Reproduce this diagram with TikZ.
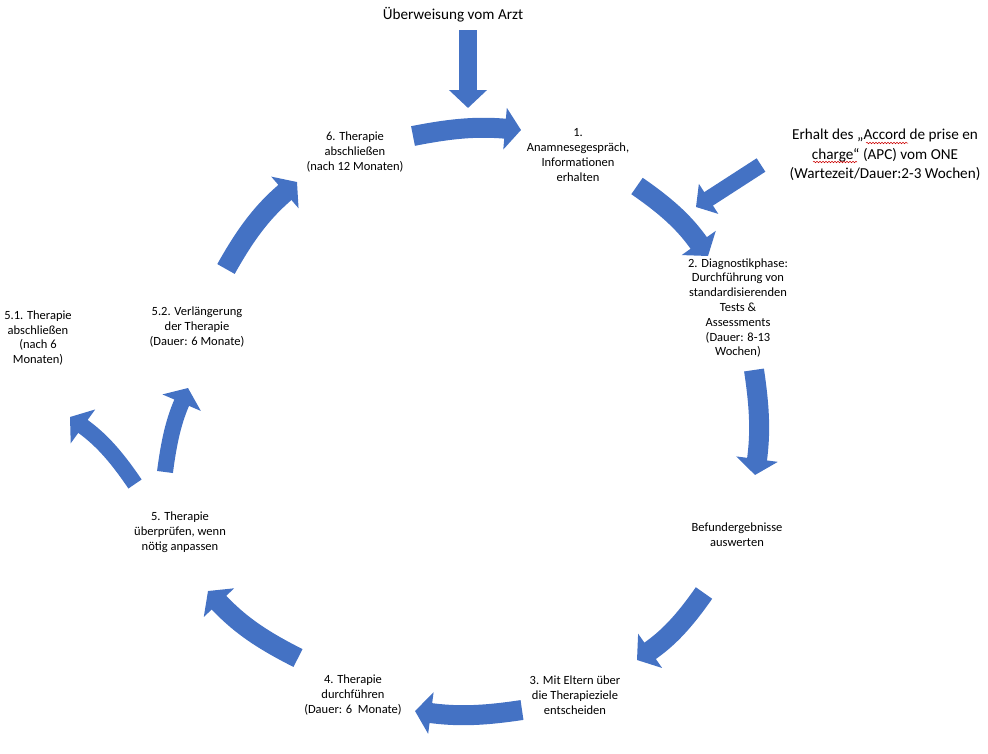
\documentclass[tikz,border=0pt]{standalone}
\usepackage{fontspec}
\setmainfont{Carlito}
\usepackage{tikz}
\usetikzlibrary{arrows.meta,decorations.pathmorphing}
\definecolor{officeblue}{HTML}{4472C4}

\begin{document}
\begin{tikzpicture}[
  x=1pt, y=-1pt,
  lbl/.style={align=center, font=\fontsize{12.5}{14.8}\selectfont, inner sep=1pt},
  note/.style={align=center, font=\fontsize{15.2}{19.5}\selectfont, inner sep=1pt},
  arrow/.style={line width=20pt, officeblue, -{Triangle[length=16pt, width=41pt]}},
  feed/.style={line width=18pt, officeblue, -{Triangle[length=18pt, width=37pt]}},
  squiggle/.style={red!80!black, line width=0.5pt, decorate, decoration={snake, amplitude=0.8pt, segment length=3pt}}
]
\useasboundingbox (0,0) rectangle (988,753);

% texts
\node[note] (arzt) at (453,15) {Überweisung vom Arzt};
\node[note] (apc) at (885,155) {Erhalt des „Accord de prise en\\charge“ (APC) vom ONE\\(Wartezeit/Dauer:2-3 Wochen)};
\node[lbl] (s1) at (578,155) {1.\\Anamnesegespräch,\\Informationen\\erhalten};
\node[lbl] (s2) at (738,308) {2. Diagnostikphase:\\Durchführung von\\standardisierenden\\Tests \&\\Assessments\\(Dauer: 8-13\\Wochen)};
\node[lbl] (bef) at (737,535) {Befundergebnisse\\auswerten};
\node[lbl] (s3) at (575,695) {3. Mit Eltern über\\die Therapieziele\\entscheiden};
\node[lbl] (s4) at (353,695) {4. Therapie\\durchführen\\(Dauer: 6~~Monate)};
\node[lbl] (s5) at (180,532) {5. Therapie\\überprüfen, wenn\\nötig anpassen};
\node[lbl] (s51) at (38,338) {5.1. Therapie\\abschließen\\(nach 6\\Monaten)};
\node[lbl] (s52) at (197,327) {5.2. Verlängerung\\der Therapie\\(Dauer: 6 Monate)};
\node[lbl] (s6) at (355,152) {6. Therapie\\abschließen\\(nach 12 Monaten)};

% spell-check marks
\coordinate (sq1a) at (866,143); \coordinate (sq1b) at (908,143);
\coordinate (sq2a) at (813,162); \coordinate (sq2b) at (857,162);
\draw[squiggle] (sq1a) -- (sq1b);
\draw[squiggle] (sq2a) -- (sq2b);

% arrow ends
\coordinate (arzt-out) at (468,30);   \coordinate (arzt-in) at (468,108);
\coordinate (apc-out) at (761,165);   \coordinate (apc-in) at (696,207);
\coordinate (s6-out) at (413,136);    \coordinate (s1-in) at (521,130);
\coordinate (s1-out) at (637,186);    \coordinate (s2-in) at (708,256);
\coordinate (s2-out) at (754,370);    \coordinate (bef-in) at (755,475);
\coordinate (bef-out) at (704,593);   \coordinate (s3-in) at (637,660);
\coordinate (s3-out) at (522,710);    \coordinate (s4-in) at (415,711);
\coordinate (s4-out) at (298,658);    \coordinate (s5-in) at (208,591);
\coordinate (s5-outa) at (135,484);   \coordinate (s51-in) at (70,417);
\coordinate (s5-outb) at (165,472);   \coordinate (s52-in) at (188,388);
\coordinate (s52-out) at (226,269);   \coordinate (s6-in) at (297,182);

% incoming
\draw[feed] (arzt-out) -- (arzt-in);
\draw[feed, line width=16pt, -{Triangle[length=15pt, width=35pt]}] (apc-out) -- (apc-in);

% cycle
\draw[arrow] (s6-out) to[bend left=8] (s1-in);
\draw[arrow] (s1-out) to[bend left=10] (s2-in);
\draw[arrow] (s2-out) to[bend left=8] (bef-in);
\draw[arrow] (bef-out) to[bend left=10] (s3-in);
\draw[arrow] (s3-out) to[bend left=8] (s4-in);
\draw[arrow] (s4-out) to[bend left=10] (s5-in);
\draw[arrow, line width=16pt] (s5-outa) to[bend right=10] (s51-in);
\draw[arrow, line width=16pt] (s5-outb) to[bend left=8] (s52-in);
\draw[arrow] (s52-out) to[bend left=10] (s6-in);
\end{tikzpicture}
\end{document}
